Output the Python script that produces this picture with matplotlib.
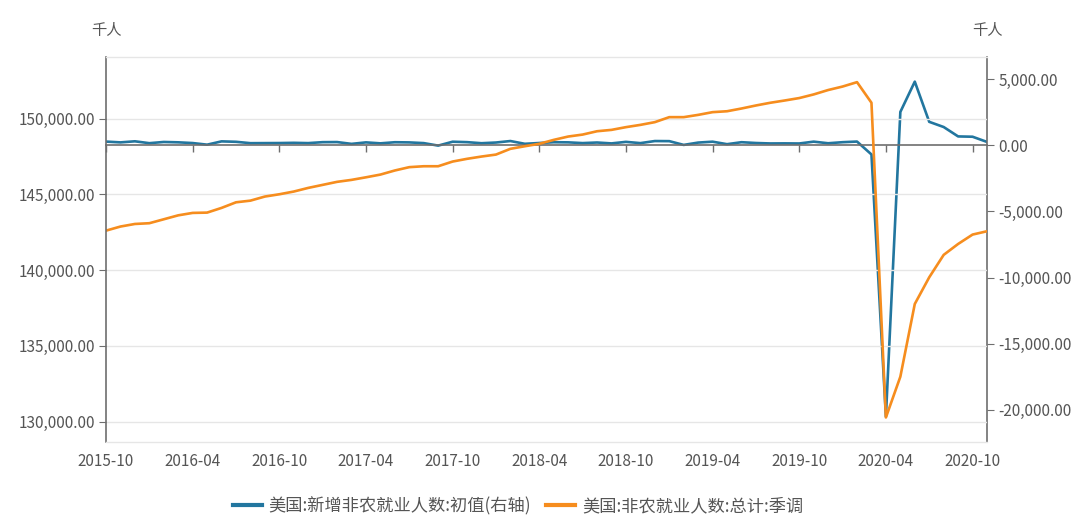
import matplotlib
matplotlib.use("Agg")
import matplotlib.pyplot as plt
import pandas as pd
from matplotlib.ticker import FuncFormatter, FixedLocator

plt.rcParams['font.family'] = ['Noto Sans CJK SC', 'DejaVu Sans']

# ---- data ----
months = list(pd.date_range('2015-10-01', periods=62, freq='MS').strftime('%Y-%m'))

new_payrolls = [  # 美国:新增非农就业人数:初值 (右轴), 千人
    271, 211, 292,
    151, 242, 215, 160, 38, 287, 255, 151, 156, 161, 178, 156,
    227, 235, 98, 211, 138, 222, 209, 156, -33, 261, 228, 148,
    200, 313, 103, 164, 223, 213, 157, 201, 134, 250, 155, 312,
    304, 20, 196, 263, 75, 224, 164, 130, 136, 128, 266, 145,
    225, 273, -701, -20500, 2509, 4800, 1763, 1371, 661, 638, 245,
]

total_payrolls = [  # 美国:非农就业人数:总计:季调, 千人
    142600, 142870, 143040,
    143090, 143350, 143610, 143770, 143790, 144100, 144470, 144580, 144850, 145000, 145180, 145420,
    145620, 145820, 145950, 146120, 146300, 146570, 146790, 146850, 146850, 147160, 147340, 147490,
    147620, 148000, 148170, 148330, 148590, 148810, 148940, 149160, 149250, 149430, 149580, 149760,
    150090, 150090, 150240, 150420, 150480, 150660, 150860, 151040, 151190, 151350, 151590, 151880,
    152110, 152400, 151040, 130270, 132960, 137760, 139520, 141000, 141720, 142340, 142560,
]

left_ticks = [130000, 135000, 140000, 145000, 150000]
right_ticks = [-20000, -15000, -10000, -5000, 0, 5000]
label_names = ['美国:新增非农就业人数:初值(右轴)', '美国:非农就业人数:总计:季调']
unit = '千人'

# ---- style ----
BLUE = '#22769f'
ORANGE = '#f68d1e'
AXIS = '#6e6e6e'
GRID = '#e6e6e6'
TXT = '#555555'
FS = 11

fig = plt.figure(figsize=(10.8, 5.26), dpi=100)
ax = fig.add_axes([106/1080, 1-442/526, (987-106)/1080, (442-57)/526])
ax2 = ax.twinx()

x = list(range(len(months)))

l_blue, = ax2.plot(x, new_payrolls, color=BLUE, lw=1.9, solid_joinstyle='round')
l_orange, = ax.plot(x, total_payrolls, color=ORANGE, lw=1.9, solid_joinstyle='round')

ax.set_zorder(ax2.get_zorder() + 1)
ax.patch.set_visible(False)

ax.set_xlim(0, len(months) - 1)
ax.set_ylim(128650, 154060)
ax2.set_ylim(-22420, 6660)

# left axis
ax.yaxis.set_major_locator(FixedLocator(left_ticks))
ax.yaxis.set_major_formatter(FuncFormatter(lambda v, p: f'{v:,.2f}'))
ax.tick_params(axis='y', length=5, color=AXIS, labelcolor=TXT, labelsize=FS, pad=3)
ax.grid(axis='y', color=GRID, lw=1)
ax.set_axisbelow(True)

# right axis
ax2.yaxis.set_major_locator(FixedLocator(right_ticks))
ax2.yaxis.set_major_formatter(FuncFormatter(lambda v, p: f'{v:,.2f}'))
ax2.tick_params(axis='y', length=5, color=AXIS, labelcolor=TXT, labelsize=FS, pad=3)

# x axis: labels at bottom, line with ticks at right-axis zero
xt = x[::6]
ax.set_xticks(xt)
ax.set_xticklabels([months[i] for i in xt])
ax.tick_params(axis='x', length=0, labelcolor=TXT, labelsize=FS, pad=8)

ax2.xaxis.set_visible(True)
ax2.set_xticks(xt)
ax2.tick_params(axis='x', length=5, color=AXIS, labelbottom=False, labeltop=False,
                bottom=True, top=False, width=1)
ax2.spines['bottom'].set_position(('data', 0))
ax2.spines['bottom'].set_color(AXIS)
ax2.spines['bottom'].set_linewidth(1.2)

for s in ['top', 'bottom']:
    ax.spines[s].set_color(GRID)
    ax.spines[s].set_linewidth(1)
ax.spines['right'].set_visible(False)
ax.spines['left'].set_color(AXIS)
ax.spines['left'].set_linewidth(1.2)
ax2.spines['top'].set_visible(False)
ax2.spines['left'].set_visible(False)
ax2.spines['right'].set_color(AXIS)
ax2.spines['right'].set_linewidth(1.2)

fig.text(106/1080, 1-31/526, unit, ha='center', va='center', color=TXT, fontsize=FS)
fig.text(987/1080, 1-31/526, unit, ha='center', va='center', color=TXT, fontsize=FS)

fig.legend([l_blue, l_orange], label_names, loc='center', bbox_to_anchor=(518/1080, 1-506/526),
           ncol=2, frameon=False, fontsize=12.4, handlelength=1.7, handletextpad=0.4,
           columnspacing=0.85, labelcolor=TXT)
for h in fig.legends[0].legend_handles:
    h.set_linewidth(3)

fig.savefig('out.png', dpi=100)
